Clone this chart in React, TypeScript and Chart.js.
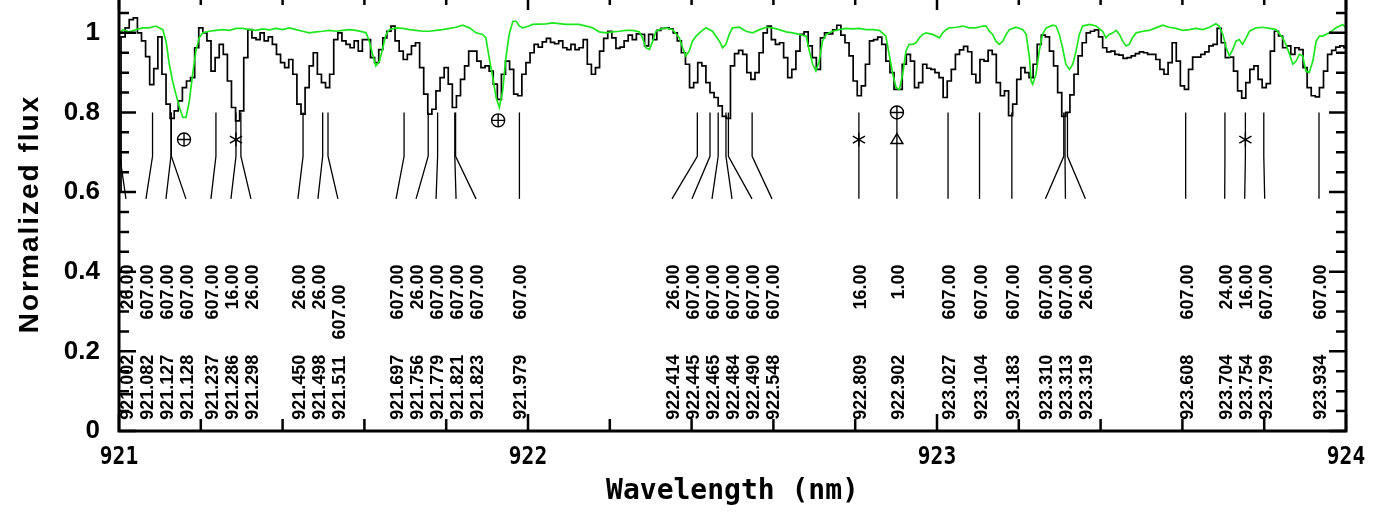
import React, { useEffect, useRef } from "react";
import { Chart, registerables } from "chart.js";

Chart.register(...registerables);

// ---------------- data ----------------
const WL_START = 921.0;
const WL_STEP = 0.01;

// observed (black, stepped) normalized flux, one value per 0.01 nm from 921.00 to 924.00
const observedFlux = [
  0.60, 0.99, 1.0125, 1.033, 1.0375, 1.0, 0.98, 0.94, 0.87, 0.91,
  0.99, 0.896, 0.821, 0.785, 0.804, 0.829, 0.8625, 0.879, 0.8875, 0.9625,
  1.0125, 1.0, 0.98, 0.904, 0.9375, 0.971, 0.946, 0.879, 0.8125, 0.779,
  0.804, 0.9375, 1.008, 0.9875, 0.983, 1.0, 0.98, 0.99, 0.971, 0.946,
  0.925, 0.9125, 0.933, 0.896, 0.821, 0.796, 0.8625, 0.917, 0.95, 0.896,
  0.875, 0.8625, 0.896, 0.983, 1.0, 0.98, 0.971, 0.9625, 0.98, 0.954,
  0.983, 0.983, 0.9375, 0.925, 0.958, 0.9875, 1.004, 1.017, 0.98, 0.954,
  0.933, 0.946, 0.967, 0.975, 0.9125, 0.846, 0.796, 0.808, 0.854, 0.8875,
  0.9125, 0.871, 0.8125, 0.842, 0.883, 0.917, 0.954, 0.954, 0.929, 0.9125,
  0.917, 0.904, 0.871, 0.833, 0.896, 0.929, 0.908, 0.846, 0.842, 0.896,
  0.925, 0.95, 0.971, 0.964, 0.9775, 0.986, 0.976, 0.9725, 0.98, 0.9625,
  0.958, 0.971, 0.958, 0.9625, 0.983, 0.921, 0.896, 0.9125, 0.954, 0.986,
  1.004, 0.9875, 0.961, 0.964, 0.98, 0.994, 0.983, 0.9975, 0.996, 0.967,
  0.996, 0.983, 1.006, 1.011, 1.0125, 1.01, 1.0, 0.98, 0.95, 0.921,
  0.8625, 0.875, 0.925, 0.917, 0.875, 0.85, 0.8375, 0.8167, 0.79, 0.785,
  0.917, 0.9475, 0.956, 0.946, 0.9, 0.883, 0.9, 0.95, 1.0, 1.017,
  0.983, 0.971, 0.975, 0.9375, 0.8875, 0.908, 0.954, 0.996, 1.0025, 0.967,
  0.9375, 0.908, 0.9875, 1.0, 0.9975, 1.0075, 1.019, 0.994, 0.975, 0.942,
  0.879, 0.842, 0.867, 0.921, 0.98, 0.983, 0.989, 0.971, 0.929, 0.9,
  0.858, 0.858, 0.921, 0.946, 0.929, 0.8625, 0.875, 0.921, 0.911, 0.908,
  0.9, 0.8875, 0.8375, 0.879, 0.908, 0.946, 0.957, 0.966, 0.9525, 0.896,
  0.875, 0.933, 0.929, 0.956, 0.946, 0.875, 0.842, 0.854, 0.792, 0.821,
  0.883, 0.9125, 0.9, 0.8875, 0.921, 0.971, 0.994, 0.99, 0.954, 0.917,
  0.85, 0.79, 0.80, 0.844, 0.896, 0.942, 0.975, 1.0, 1.004, 1.0075,
  0.99, 0.9625, 0.952, 0.954, 0.946, 0.944, 0.936, 0.9375, 0.942, 0.9475,
  0.952, 0.95, 0.946, 0.946, 0.933, 0.908, 0.896, 0.925, 0.975, 0.929,
  0.867, 0.858, 0.908, 0.939, 0.939, 0.946, 0.952, 0.967, 0.971, 1.011,
  0.975, 0.9375, 0.939, 0.904, 0.854, 0.836, 0.875, 0.908, 0.917, 0.883,
  0.8625, 0.8725, 0.954, 1.004, 0.992, 0.9625, 0.967, 0.946, 0.9625, 0.958,
  0.9125, 0.8625, 0.842, 0.839, 0.8625, 0.904, 0.946, 0.956, 0.964, 0.967,
  0.9625,
];

// telluric (green) spectrum, read point by point
const telluricWl = [
  921.000, 921.009, 921.025, 921.042, 921.058, 921.074, 921.090, 921.107, 921.115, 921.123,
  921.131, 921.139, 921.148, 921.156, 921.164, 921.172, 921.180, 921.188, 921.196, 921.205,
  921.221, 921.237, 921.253, 921.270, 921.286, 921.302, 921.319, 921.335, 921.351, 921.368,
  921.384, 921.400, 921.416, 921.433, 921.449, 921.465, 921.482, 921.498, 921.514, 921.531,
  921.547, 921.563, 921.579, 921.596, 921.604, 921.612, 921.620, 921.628, 921.637, 921.645,
  921.653, 921.661, 921.677, 921.694, 921.710, 921.726, 921.742, 921.759, 921.775, 921.791,
  921.808, 921.824, 921.840, 921.857, 921.873, 921.889, 921.897, 921.905, 921.914, 921.922,
  921.930, 921.938, 921.946, 921.954, 921.963, 921.971, 921.979, 921.987, 922.003,
  922.011, 922.044, 922.060, 922.093, 922.125, 922.142, 922.158, 922.174, 922.191, 922.207,
  922.223, 922.239, 922.256, 922.272, 922.280, 922.288, 922.297, 922.305, 922.313, 922.321,
  922.337, 922.354, 922.370, 922.378, 922.386, 922.394, 922.402, 922.411, 922.419, 922.435,
  922.451, 922.468, 922.476, 922.484, 922.492, 922.500, 922.517, 922.533, 922.549, 922.566,
  922.582, 922.598, 922.614, 922.631, 922.647, 922.663, 922.680, 922.688, 922.696, 922.704,
  922.712, 922.720, 922.729, 922.745, 922.761, 922.777, 922.794, 922.810, 922.826, 922.843,
  922.859, 922.875, 922.883, 922.892, 922.900, 922.908, 922.916, 922.924, 922.932, 922.940,
  922.949, 922.957, 922.965, 922.973, 922.989,
  922.998, 923.006, 923.014, 923.022, 923.030, 923.047, 923.063, 923.079, 923.095, 923.112,
  923.120, 923.128, 923.136, 923.144, 923.152, 923.161, 923.169, 923.177, 923.193, 923.210,
  923.218, 923.226, 923.230, 923.234, 923.242, 923.250, 923.258, 923.267, 923.283, 923.291,
  923.299, 923.307, 923.315, 923.324, 923.332, 923.340, 923.348, 923.356, 923.373, 923.389,
  923.405, 923.413, 923.421, 923.430, 923.438, 923.446, 923.454, 923.462, 923.470, 923.478,
  923.487, 923.503, 923.519, 923.535, 923.552, 923.568, 923.584, 923.601, 923.617, 923.633,
  923.650, 923.666, 923.682, 923.690, 923.699, 923.707, 923.715, 923.723, 923.731, 923.739,
  923.747, 923.756, 923.764, 923.780, 923.796, 923.813, 923.829, 923.845, 923.853, 923.862,
  923.870, 923.878, 923.886, 923.894, 923.902, 923.910, 923.919, 923.927, 923.935, 923.943,
  923.959, 923.976, 923.992, 924.000,
];
const telluricFlux = [
  0.996, 1.008, 1.0025, 1.008, 1.0125, 1.0125, 1.017, 1.008, 0.979, 0.921,
  0.879, 0.846, 0.8125, 0.7875, 0.7875, 0.829, 0.896, 0.954, 0.9875, 1.0,
  1.004, 1.006, 1.008, 1.006, 1.011, 1.011, 1.008, 1.006, 1.01, 1.0075,
  1.011, 1.008, 1.0125, 1.008, 1.004, 1.0, 1.0025, 1.004, 1.006, 1.004,
  1.006, 1.008, 1.006, 1.0025, 1.0, 0.979, 0.946, 0.917, 0.929, 0.9625,
  0.996, 1.008, 1.0125, 1.011, 1.008, 1.006, 1.004, 1.004, 1.006, 1.008,
  1.011, 1.014, 1.019, 1.0125, 1.0, 0.996, 0.9875, 0.9375, 0.8875, 0.8375,
  0.8125, 0.854, 0.9375, 0.996, 1.029, 1.029, 1.017, 1.0125, 1.017,
  1.021, 1.0225, 1.025, 1.021, 1.021, 1.017, 1.0125, 1.0025, 1.0, 1.0025,
  1.004, 1.006, 1.006, 1.0025, 0.9875, 0.9625, 0.958, 0.979, 1.004, 1.008,
  1.0125, 1.008, 0.9875, 0.9625, 0.942, 0.954, 0.979, 0.9917, 1.0, 1.0125,
  1.004, 0.979, 0.9625, 0.971, 0.996, 1.0125, 1.014, 1.004, 1.0, 1.008,
  1.014, 1.0125, 1.008, 1.0025, 1.0, 0.996, 0.9917, 0.954, 0.921, 0.904,
  0.929, 0.979, 0.996, 1.004, 1.008, 1.011, 1.01, 1.011, 1.008, 1.008,
  1.006, 0.9917, 0.946, 0.896, 0.8625, 0.858, 0.896, 0.954, 0.971, 0.971,
  0.975, 0.9875, 0.996, 1.0, 0.996,
  0.9917, 0.9875, 1.0, 1.008, 1.0125, 1.014, 1.017, 1.0125, 1.0125, 1.017,
  1.017, 1.004, 0.996, 0.979, 0.971, 0.979, 0.996, 1.008, 1.014, 1.008,
  0.996, 0.9375, 0.879, 0.871, 0.896, 0.954, 0.996, 1.0125, 1.019, 1.017,
  0.996, 0.9625, 0.921, 0.908, 0.921, 0.954, 0.996, 1.017, 1.021, 1.017,
  1.004, 0.9875, 0.996, 1.0, 1.006, 0.996, 0.979, 0.967, 0.971, 0.9875,
  1.0, 1.004, 1.006, 1.0125, 1.019, 1.014, 1.011, 1.006, 1.008, 1.011,
  1.008, 1.014, 1.0225, 1.017, 0.996, 0.9625, 0.942, 0.958, 0.979, 0.983,
  0.971, 0.9875, 1.004, 1.0125, 1.014, 1.011, 1.008, 0.9875, 0.971, 0.946,
  0.921, 0.929, 0.946, 0.942, 0.904, 0.9, 0.929, 0.979, 0.9917, 0.9917,
  1.0, 1.0125, 1.021, 1.0125,
];

// line identifications
const idWl = [
  921.002, 921.082, 921.127, 921.128, 921.237, 921.286, 921.298,
  921.450, 921.498, 921.511,
  921.697, 921.756, 921.779, 921.821, 921.823, 921.979,
  922.414, 922.445, 922.465, 922.484, 922.490, 922.548,
  922.809, 922.902,
  923.027, 923.104, 923.183, 923.310, 923.313, 923.319,
  923.608, 923.704, 923.754, 923.799, 923.934,
];
const idSpecies = [
  "26.00", "607.00", "607.00", "607.00", "607.00", "16.00", "26.00",
  "26.00", "26.00", "607.00",
  "607.00", "26.00", "607.00", "607.00", "607.00", "607.00",
  "26.00", "607.00", "607.00", "607.00", "607.00", "607.00",
  "16.00", "1.00",
  "607.00", "607.00", "607.00", "607.00", "607.00", "26.00",
  "607.00", "24.00", "16.00", "607.00", "607.00",
];
const idSpeciesRow = [
  0, 0, 0, 0, 0, 0, 0,
  0, 0, 1,
  0, 0, 0, 0, 0, 0,
  0, 0, 0, 0, 0, 0,
  0, 0,
  0, 0, 0, 0, 0, 0,
  0, 0, 0, 0, 0,
];

// special markers (telluric ⊕, asterisk, triangle)
const markWl = [921.159, 921.286, 921.927, 922.809, 922.902, 922.902, 923.754];
const markFlux = [0.732, 0.732, 0.78, 0.732, 0.80, 0.732, 0.732];
const markType = ["earth", "star", "earth", "star", "earth", "triangle", "star"];

const xTickValues = [921, 922, 923, 924];
const xTickLabels = ["921", "922", "923", "924"];
const X_MINOR = 0.2;
const Y_MINOR = 0.05;
const Y_MAJOR = 0.2;
const X_TITLE = "Wavelength (nm)";
const Y_TITLE = "Normalized flux";

// ---------------- helpers ----------------
function spreadLabels(px: number[], minX: number, maxX: number, gap: number) {
  const d = px.map((p) => Math.min(Math.max(p, minX), maxX));
  let clusters = d.map((p) => ({ n: 1, sum: p }));
  let changed = true;
  while (changed) {
    changed = false;
    for (let k = 0; k < clusters.length - 1; k++) {
      const a = clusters[k];
      const b = clusters[k + 1];
      const aEnd = a.sum / a.n + ((a.n - 1) / 2) * gap;
      const bStart = b.sum / b.n - ((b.n - 1) / 2) * gap;
      if (bStart - aEnd < gap - 0.01) {
        clusters.splice(k, 2, { n: a.n + b.n, sum: a.sum + b.sum });
        changed = true;
        break;
      }
    }
  }
  const out: number[] = [];
  for (const c of clusters) {
    const cen = c.sum / c.n;
    for (let j = 0; j < c.n; j++) out.push(cen + (j - (c.n - 1) / 2) * gap);
  }
  return out;
}

const decor = {
  id: "decor",
  afterDatasetsDraw(chart: any) {
    const { ctx, chartArea: ca } = chart;
    const xs = chart.scales.x;
    const ys = chart.scales.y;
    ctx.save();

    // ---- line identification ticks ----
    const px = idWl.map((w) => xs.getPixelForValue(w));
    const lx = spreadLabels(px, ca.left + 10, ca.right - 10, 20);
    const yTop = ys.getPixelForValue(0.8);
    const yBend = ys.getPixelForValue(0.69);
    const yEnd = ys.getPixelForValue(0.583);
    ctx.strokeStyle = "#000";
    ctx.lineWidth = 1.3;
    for (let i = 0; i < idWl.length; i++) {
      ctx.beginPath();
      ctx.moveTo(px[i], yTop);
      ctx.lineTo(px[i], yBend);
      ctx.lineTo(lx[i], yEnd);
      ctx.stroke();
    }
    ctx.fillStyle = "#000";
    ctx.font = 'bold 18px "Liberation Sans"';
    ctx.textBaseline = "middle";
    const yWl = ys.getPixelForValue(0.028);
    const ySp = ys.getPixelForValue(0.418);
    for (let i = 0; i < idWl.length; i++) {
      ctx.save();
      ctx.translate(lx[i] + 2, yWl);
      ctx.rotate(-Math.PI / 2);
      ctx.textAlign = "left";
      ctx.fillText(idWl[i].toFixed(3), 0, 0);
      ctx.restore();
      ctx.save();
      ctx.translate(lx[i] + 2, ySp + idSpeciesRow[i] * 20);
      ctx.rotate(-Math.PI / 2);
      ctx.textAlign = "right";
      ctx.fillText(idSpecies[i], 0, 0);
      ctx.restore();
    }

    // ---- markers ----
    ctx.lineWidth = 1.4;
    for (let i = 0; i < markWl.length; i++) {
      const mx = xs.getPixelForValue(markWl[i]);
      const my = ys.getPixelForValue(markFlux[i]);
      ctx.beginPath();
      if (markType[i] === "earth") {
        const r = 6.5;
        ctx.fillStyle = "#fff";
        ctx.arc(mx, my, r, 0, Math.PI * 2);
        ctx.fill();
        ctx.stroke();
        ctx.beginPath();
        ctx.moveTo(mx - r, my);
        ctx.lineTo(mx + r, my);
        ctx.moveTo(mx, my - r);
        ctx.lineTo(mx, my + r);
        ctx.stroke();
      } else if (markType[i] === "star") {
        const r = 7;
        ctx.moveTo(mx, my - r);
        ctx.lineTo(mx, my + r);
        for (const a of [Math.PI / 6, -Math.PI / 6]) {
          ctx.moveTo(mx - r * Math.cos(a), my - r * Math.sin(a));
          ctx.lineTo(mx + r * Math.cos(a), my + r * Math.sin(a));
        }
        ctx.stroke();
      } else {
        const h = 10;
        const w = 12;
        ctx.fillStyle = "#fff";
        ctx.moveTo(mx, my - h * 0.6);
        ctx.lineTo(mx + w / 2, my + h * 0.4);
        ctx.lineTo(mx - w / 2, my + h * 0.4);
        ctx.closePath();
        ctx.fill();
        ctx.stroke();
        ctx.beginPath();
        ctx.moveTo(mx, my - h * 0.6);
        ctx.lineTo(mx, my + h * 0.4);
        ctx.stroke();
      }
    }

    // ---- frame and inward ticks ----
    ctx.strokeStyle = "#000";
    ctx.lineWidth = 3;
    ctx.strokeRect(ca.left, ca.top, ca.right - ca.left, ca.bottom - ca.top);
    ctx.lineWidth = 2.5;
    ctx.beginPath();
    const nY = Math.round(ys.max / Y_MINOR);
    for (let k = 0; k <= nY; k++) {
      const v = k * Y_MINOR;
      const yy = ys.getPixelForValue(v);
      const major = Math.abs(v / Y_MAJOR - Math.round(v / Y_MAJOR)) < 1e-6;
      const len = major ? 17 : 10;
      ctx.moveTo(ca.left, yy);
      ctx.lineTo(ca.left + len, yy);
      ctx.moveTo(ca.right, yy);
      ctx.lineTo(ca.right - len, yy);
    }
    const nX = Math.round((xs.max - xs.min) / X_MINOR);
    for (let k = 0; k <= nX; k++) {
      const v = xs.min + k * X_MINOR;
      const xx = xs.getPixelForValue(v);
      const major = Math.abs(v - Math.round(v)) < 1e-6;
      const len = major ? 17 : 12;
      ctx.moveTo(xx, ca.bottom);
      ctx.lineTo(xx, ca.bottom - len);
      ctx.moveTo(xx, ca.top);
      ctx.lineTo(xx, ca.top + len);
    }
    ctx.stroke();

    // ---- x tick labels and titles ----
    ctx.fillStyle = "#000";
    ctx.textAlign = "center";
    ctx.textBaseline = "middle";
    ctx.font = 'bold 25px "DejaVu Sans Mono"';
    for (let i = 0; i < xTickValues.length; i++) {
      const xx = xs.getPixelForValue(xTickValues[i]);
      ctx.save();
      ctx.translate(xx, ca.bottom + 26);
      ctx.scale(0.85, 1);
      ctx.fillText(xTickLabels[i], 0, 0);
      ctx.restore();
    }
    ctx.font = 'bold 28px "DejaVu Sans Mono"';
    ctx.fillText(X_TITLE, (ca.left + ca.right) / 2, ca.bottom + 61);

    ctx.save();
    ctx.translate(30, (ca.top + ca.bottom) / 2 + 2);
    ctx.rotate(-Math.PI / 2);
    ctx.font = 'bold 28px "Liberation Sans"';
    (ctx as any).letterSpacing = "2px";
    ctx.fillText(Y_TITLE, 0, 0);
    ctx.restore();

    ctx.restore();
  },
};

export default function App() {
  const ref = useRef<HTMLCanvasElement>(null);
  useEffect(() => {
    const blackData = observedFlux.map((f, i) => ({ x: WL_START + i * WL_STEP, y: f }));
    const greenData = telluricWl.map((w, i) => ({ x: w, y: telluricFlux[i] }));
    const chart = new Chart(ref.current as HTMLCanvasElement, {
      type: "line",
      data: {
        datasets: [
          {
            data: greenData,
            borderColor: "#1ee61e",
            borderWidth: 1.7,
            pointRadius: 0,
            tension: 0,
            order: 0,
          },
          {
            data: blackData,
            borderColor: "#000",
            borderWidth: 1.7,
            pointRadius: 0,
            stepped: "middle",
            order: 1,
          },
        ],
      },
      options: {
        animation: false,
        responsive: true,
        maintainAspectRatio: false,
        events: [],
        layout: { padding: { left: 0, right: 40, top: 0, bottom: 0 } },
        plugins: { legend: { display: false }, tooltip: { enabled: false } },
        scales: {
          x: {
            type: "linear",
            min: 921,
            max: 924,
            grid: { display: false, drawTicks: false },
            border: { display: false },
            ticks: { display: false },
            afterFit: (s: any) => {
              s.height = 82;
              s.paddingLeft = 0;
              s.paddingRight = 0;
            },
          },
          y: {
            type: "linear",
            min: 0,
            max: 1.1,
            grid: { display: false, drawTicks: false },
            border: { display: false },
            ticks: {
              stepSize: 0.2,
              includeBounds: false,
              padding: 19,
              color: "#000",
              font: { family: "Liberation Sans", weight: "bold", size: 26 },
              callback: (v: any) => {
                const n = Number(v);
                if (Math.abs(n / 0.2 - Math.round(n / 0.2)) > 1e-6) return "";
                return String(+n.toFixed(1));
              },
            },
            afterFit: (s: any) => {
              s.width = 119;
              s.paddingTop = 0;
              s.paddingBottom = 0;
            },
          },
        },
      },
      plugins: [decor],
    } as any);
    return () => chart.destroy();
  }, []);
  return (
    <div style={{ position: "absolute", left: 0, top: -7, width: 1386, height: 520, background: "#fff" }}>
      <canvas ref={ref} />
    </div>
  );
}
